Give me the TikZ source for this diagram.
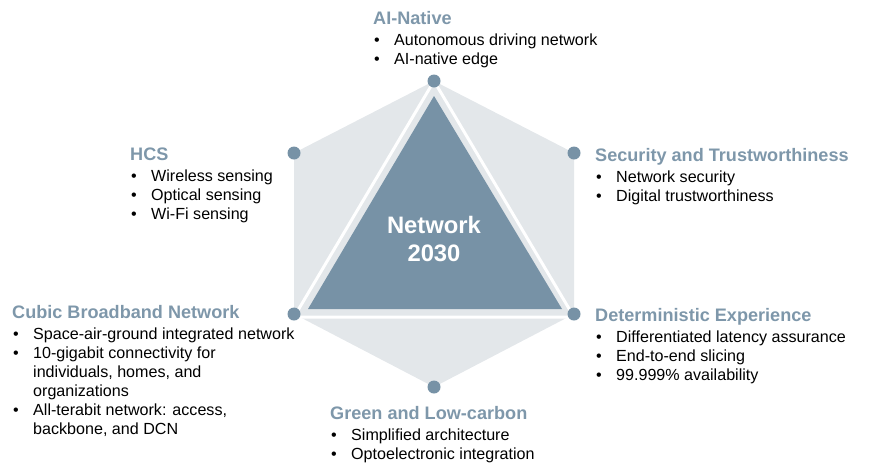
\documentclass[tikz,border=0pt]{standalone}
\usepackage{fontspec}
\setmainfont{Liberation Sans}
\usetikzlibrary{positioning, backgrounds}
\definecolor{hexgray}{RGB}{227,231,234}
\definecolor{netblue}{RGB}{119,146,166}
\definecolor{headblue}{RGB}{126,151,170}
\newcommand{\bitem}[1]{\makebox[21pt][l]{\hspace{1pt}\textbullet}#1}
\newcommand{\bcont}[1]{\makebox[21pt]{}#1}

\begin{document}
\begin{tikzpicture}[x=1pt, y=-1pt,
  vertex/.style={circle, fill=netblue, inner sep=0pt, minimum size=13pt},
  heading/.style={anchor=base west, inner sep=0pt, text=headblue, font=\fontsize{18.1}{20}\selectfont\bfseries},
  points/.style={anchor=north west, inner sep=0pt, align=left, font=\fontsize{16.1}{19}\selectfont}]
\useasboundingbox (0,0) rectangle (869,475);

% corner dots of the hexagon
\node[vertex] (ain) at (434,81) {};
\node[vertex] (hcs) at (294,153) {};
\node[vertex] (sec) at (574,153) {};
\node[vertex] (cbn) at (294,314) {};
\node[vertex] (det) at (574,314) {};
\node[vertex] (grn) at (434,387) {};

\begin{scope}[on background layer]
\fill[hexgray] (ain.center) -- (sec.center) -- (det.center) -- (grn.center) -- (cbn.center) -- (hcs.center) -- cycle;
\draw[white, line width=3pt, line join=round] (ain.center) -- ([yshift=-3pt]cbn.center) -- ([yshift=-3pt]det.center) -- cycle;
\fill[netblue] (434,96) -- (308,309) -- (562,309) -- cycle;
\end{scope}

\node[align=center, text=white, font=\fontsize{23.8}{28}\selectfont\bfseries] (core) at (434,239) {Network\\2030};

% text blocks
\node[heading] (aiT) at (373,24) {AI-Native};
\node[points, below=9.5pt of aiT.base west, anchor=north west] (aiL) {\bitem{Autonomous driving network}\\\bitem{AI-native edge}};

\node[heading] (hcsT) at (130,160) {HCS};
\node[points, below=9.5pt of hcsT.base west, anchor=north west] (hcsL) {\bitem{Wireless sensing}\\\bitem{Optical sensing}\\\bitem{Wi-Fi sensing}};

\node[heading] (secT) at (595,161) {Security and Trustworthiness};
\node[points, below=9.5pt of secT.base west, anchor=north west] (secL) {\bitem{Network security}\\\bitem{Digital trustworthiness}};

\node[heading] (cbnT) at (12,318) {Cubic Broadband Network};
\node[points, below=9.5pt of cbnT.base west, anchor=north west] (cbnL) {\bitem{Space-air-ground integrated network}\\\bitem{10-gigabit connectivity for}\\\bcont{individuals, homes, and}\\\bcont{organizations}\\\bitem{All-terabit network: access,}\\\bcont{backbone, and DCN}};

\node[heading] (detT) at (595,321) {Deterministic Experience};
\node[points, below=9.5pt of detT.base west, anchor=north west] (detL) {\bitem{Differentiated latency assurance}\\\bitem{End-to-end slicing}\\\bitem{99.999\% availability}};

\node[heading] (grnT) at (330,419) {Green and Low-carbon};
\node[points, below=9.5pt of grnT.base west, anchor=north west] (grnL) {\bitem{Simplified architecture}\\\bitem{Optoelectronic integration}};
\end{tikzpicture}
\end{document}
